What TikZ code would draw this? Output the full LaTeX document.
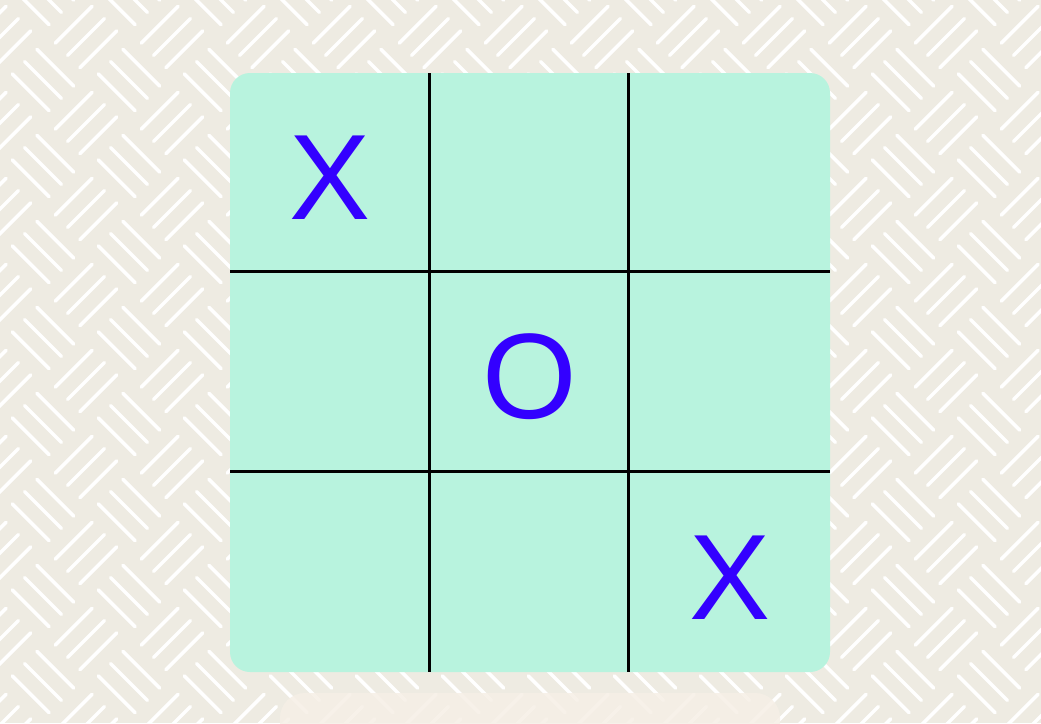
\documentclass[tikz,border=0pt]{standalone}
\usepackage{fontspec}
\setmainfont{Liberation Sans}
\definecolor{bgcol}{HTML}{EEEBE2}
\definecolor{boardcol}{HTML}{B8F3DE}
\definecolor{markcol}{HTML}{3300FF}
\definecolor{creamcol}{HTML}{F6EFE6}
\tikzset{
  weave/.style={draw=white, line width=3.5pt, line cap=round},
  gridline/.style={draw=black, line width=3pt},
  mark/.style={}, 
  markchar/.style={text=markcol, font=\fontsize{121.5}{121.5}\selectfont, anchor=base, inner sep=0pt},
}
\begin{document}
\begin{tikzpicture}[x=1pt,y=-1pt]
\useasboundingbox (0,0) rectangle (1041,723);
\fill[bgcol] (0,0) rectangle (1041,723);
\begin{scope}
\clip (0,0) rectangle (1041,723);
% "/" groups
\foreach \i in {-1,...,13}{
  \foreach \j in {-1,...,9}{
    \pgfmathsetmacro{\cx}{86*\i}
    \pgfmathsetmacro{\cy}{37+86*\j}
    \foreach \k in {-1,0,1}{
      \draw[weave] (\cx+12.3*\k-18.4,\cy+12.3*\k+18.4) -- (\cx+12.3*\k+18.4,\cy+12.3*\k-18.4);
    }
  }
}
% "\" groups
\foreach \i in {-1,...,13}{
  \foreach \j in {-1,...,9}{
    \pgfmathsetmacro{\cx}{43+86*\i}
    \pgfmathsetmacro{\cy}{80+86*\j}
    \foreach \k in {-1,0,1}{
      \draw[weave] (\cx+12.3*\k-18.4,\cy-12.3*\k-18.4) -- (\cx+12.3*\k+18.4,\cy-12.3*\k+18.4);
    }
  }
}
\end{scope}
% cream panel below
\fill[creamcol, fill opacity=0.85, rounded corners=25pt] (280,693) rectangle (780,760);
% board
\node[fill=boardcol, rounded corners=20pt, minimum width=600pt, minimum height=599pt, inner sep=0pt, draw=none] (board) at (530,372.5) {};
\coordinate (v1t) at (429,73); \coordinate (v1b) at (429,672);
\coordinate (v2t) at (628,73); \coordinate (v2b) at (628,672);
\coordinate (h1l) at (230,271); \coordinate (h1r) at (830,271);
\coordinate (h2l) at (230,471); \coordinate (h2r) at (830,471);
\draw[gridline] (v1t) -- (v1b);
\draw[gridline] (v2t) -- (v2b);
\draw[gridline] (h1l) -- (h1r);
\draw[gridline] (h2l) -- (h2r);
\node[markchar] (x1) at (330,219) {X};
\node[markchar] (o1) at (530,418) {O};
\node[markchar] (x2) at (730,619) {X};
\end{tikzpicture}
\end{document}
